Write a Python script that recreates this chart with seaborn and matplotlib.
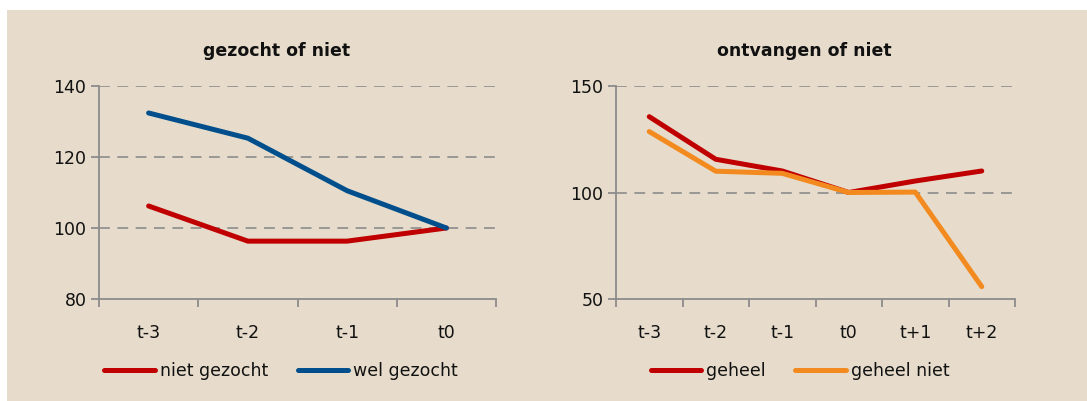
import numpy as np
import pandas as pd
import matplotlib
matplotlib.use("Agg")
import matplotlib.pyplot as plt
import seaborn as sns
from matplotlib.patches import Rectangle

# Left panel: gezocht of niet
periods_left = ["t-3", "t-2", "t-1", "t0"]
niet_gezocht = [106.2, 96.3, 96.3, 100]
wel_gezocht = [132.4, 125.3, 110.5, 100]

# Right panel: ontvangen of niet
periods_right = ["t-3", "t-2", "t-1", "t0", "t+1", "t+2"]
geheel = [135.6, 115.6, 110.1, 100, 105.4, 110.1]
geheel_niet = [128.6, 110.0, 109.0, 100, 100.2, 55.8]

BG = "#E7DCCB"
GRID = "#8C8C8C"
RED = "#C00000"
BLUE = "#004F8C"
ORANGE = "#F28A1F"

sns.set_theme(style="white")
plt.rcParams["font.family"] = ["DejaVu Sans"]

W, H = 1087, 401
fig = plt.figure(figsize=(W / 100, H / 100), dpi=100)
fig.patch.set_facecolor("white")
fig.add_artist(Rectangle((7 / W, 0), 1 - 7 / W, (H - 10) / H,
                         transform=fig.transFigure, facecolor=BG,
                         edgecolor="none", zorder=-10))


def px_axes(x0, x1, y0, y1):
    return fig.add_axes([x0 / W, (H - y1) / H, (x1 - x0) / W, (y1 - y0) / H])


def style_axes(ax, cats, ylim, yticks):
    n = len(cats)
    ax.set_facecolor("none")
    ax.set_xlim(-0.5, n - 0.5)
    ax.set_ylim(*ylim)
    ax.set_yticks(yticks)
    ax.set_xticks(range(n))
    ax.set_xticklabels(cats)
    ax.set_xticks(np.arange(n + 1) - 0.5, minor=True)
    ax.tick_params(axis="x", which="both", bottom=True)
    ax.tick_params(axis="y", which="both", left=True)
    ax.tick_params(axis="x", which="major", length=0, pad=18, labelsize=12.5,
                   colors="#111111")
    ax.tick_params(axis="x", which="minor", length=6, width=1.3, color=GRID,
                   direction="out")
    ax.tick_params(axis="y", length=6, width=1.3, color=GRID, direction="out",
                   labelsize=12.5, labelcolor="#111111", pad=3)
    for s in ["top", "right"]:
        ax.spines[s].set_visible(False)
    for s in ["left", "bottom"]:
        ax.spines[s].set_color(GRID)
        ax.spines[s].set_linewidth(1.3)
    for y in yticks[1:]:
        ax.axhline(y, color=GRID, linestyle=(0, (6.5, 4.5)), linewidth=1.2, zorder=0)
    ax.set_xlabel("")
    ax.set_ylabel("")


# left chart
df_left = pd.DataFrame({
    "periode": periods_left * 2,
    "waarde": niet_gezocht + wel_gezocht,
    "groep": ["niet gezocht"] * len(periods_left) + ["wel gezocht"] * len(periods_left),
})
ax1 = px_axes(99, 496, 86, 299)
sns.lineplot(data=df_left, x="periode", y="waarde", hue="groep",
             palette={"niet gezocht": RED, "wel gezocht": BLUE},
             linewidth=3.6, sort=False, legend=False, ax=ax1)
style_axes(ax1, periods_left, (80, 140), [80, 100, 120, 140])
fig.text(277 / W, 1 - 51 / H, "gezocht of niet", ha="center", va="center",
         fontsize=12.5, fontweight="bold", color="#111111")

# right chart
df_right = pd.DataFrame({
    "periode": periods_right * 2,
    "waarde": geheel + geheel_niet,
    "groep": ["geheel"] * len(periods_right) + ["geheel niet"] * len(periods_right),
})
ax2 = px_axes(616, 1015, 86, 299)
sns.lineplot(data=df_right, x="periode", y="waarde", hue="groep",
             palette={"geheel": RED, "geheel niet": ORANGE},
             linewidth=3.6, sort=False, legend=False, ax=ax2)
style_axes(ax2, periods_right, (50, 150), [50, 100, 150])
fig.text(804 / W, 1 - 51 / H, "ontvangen of niet", ha="center", va="center",
         fontsize=12.5, fontweight="bold", color="#111111")

# legends
for ax, (cx, cy) in [(ax1, (281, 371)), (ax2, (800, 371))]:
    handles = ax.get_lines()[:2]
    labels = ["niet gezocht", "wel gezocht"] if ax is ax1 else ["geheel", "geheel niet"]
    fig.legend(handles, labels, loc="center", bbox_to_anchor=(cx / W, 1 - cy / H),
               ncol=2, frameon=False, fontsize=12.5, handlelength=2.9,
               handletextpad=0.3, columnspacing=1.7, labelcolor="#111111")

fig.savefig("out.png", dpi=100)
